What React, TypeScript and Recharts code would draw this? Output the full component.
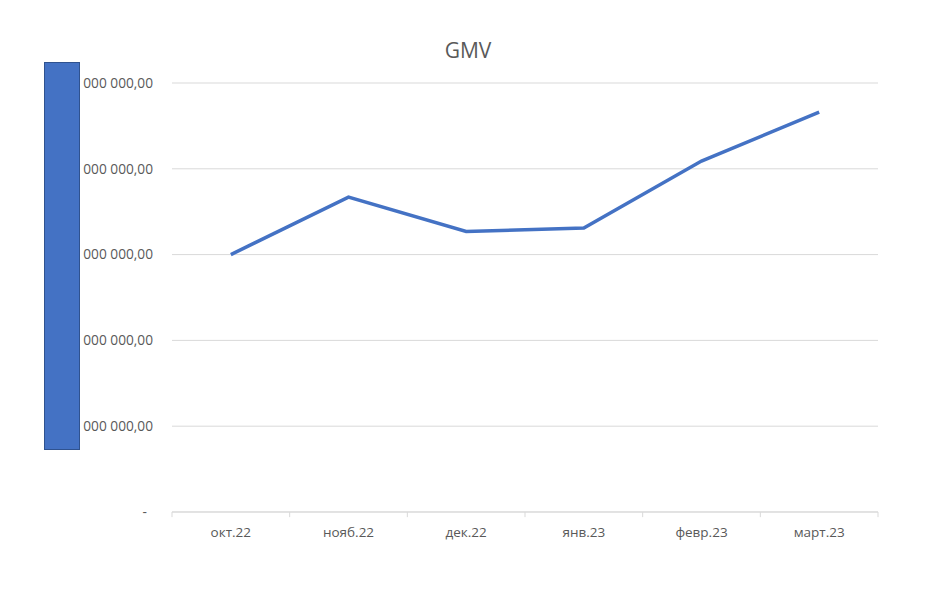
import React from "react";
import { LineChart, Line, XAxis, YAxis, CartesianGrid, ReferenceLine } from "recharts";

const categories = ["окт.22", "нояб.22", "дек.22", "янв.23", "февр.23", "март.23"];
const gmvValues = [3.0, 3.67, 3.27, 3.31, 4.09, 4.66];
const yTicks = [0, 1, 2, 3, 4, 5];
const yTickLabels = ["-", "000 000,00", "000 000,00", "000 000,00", "000 000,00", "000 000,00"];
const xLabelPositions = [0.5, 1.5, 2.5, 3.5, 4.5, 5.5];
const xBoundaries = [0, 1, 2, 3, 4, 5, 6];

const data = categories.map((c, i) => ({ x: xLabelPositions[i], name: c, gmv: gmvValues[i] }));

const FONT = "'Open Sans', sans-serif";
const TEXT = "#595959";
const GRID = "#D9D9D9";

const YTick = (props: any) => {
  const { x, y, payload } = props;
  const idx = yTicks.indexOf(payload.value);
  const label = yTickLabels[idx] ?? "";
  const shift = payload.value === 0 ? -6 : 0;
  return (
    <text x={x + shift} y={y} dy="0.35em" textAnchor="end" fill={TEXT} fontSize={13.7} fontFamily={FONT}>
      {label}
    </text>
  );
};

export default function App() {
  return (
    <div style={{ position: "absolute", left: 0, top: 0, width: 936, height: 600, background: "#fff" }}>
      <div
        style={{
          position: "absolute",
          left: 0,
          top: 36,
          width: 936,
          textAlign: "center",
          fontFamily: FONT,
          fontSize: 21,
          color: TEXT,
          lineHeight: "28px",
        }}
      >
        GMV
      </div>
      <LineChart width={936} height={600} data={data} margin={{ top: 83, right: 58, bottom: 58, left: 0 }}>
        <CartesianGrid vertical={false} stroke={GRID} strokeWidth={1} />
        <XAxis
          dataKey="x"
          type="number"
          domain={[0, 6]}
          ticks={xLabelPositions}
          tickFormatter={(v: number) => categories[Math.floor(v)]}
          tickLine={false}
          tickSize={0}
          tickMargin={15}
          axisLine={{ stroke: GRID }}
          height={30}
          interval={0}
          tick={{ fill: TEXT, fontSize: 13.5, fontFamily: FONT }}
        />
        <YAxis
          type="number"
          domain={[0, 5]}
          ticks={yTicks}
          width={172}
          axisLine={false}
          tickLine={false}
          tickSize={0}
          tickMargin={19}
          interval={0}
          tick={<YTick />}
        />
        {xBoundaries.map((b) => (
          <ReferenceLine
            key={b}
            segment={[
              { x: b, y: 0 },
              { x: b, y: -0.06 },
            ]}
            stroke={GRID}
            strokeWidth={1}
            ifOverflow="visible"
          />
        ))}
        <Line
          type="linear"
          dataKey="gmv"
          stroke="#4472C4"
          strokeWidth={3.5}
          dot={false}
          isAnimationActive={false}
        />
      </LineChart>
      <div
        style={{
          position: "absolute",
          left: 44,
          top: 62,
          width: 34,
          height: 386,
          background: "#4472C4",
          border: "1px solid #2F528F",
        }}
      />
    </div>
  );
}
